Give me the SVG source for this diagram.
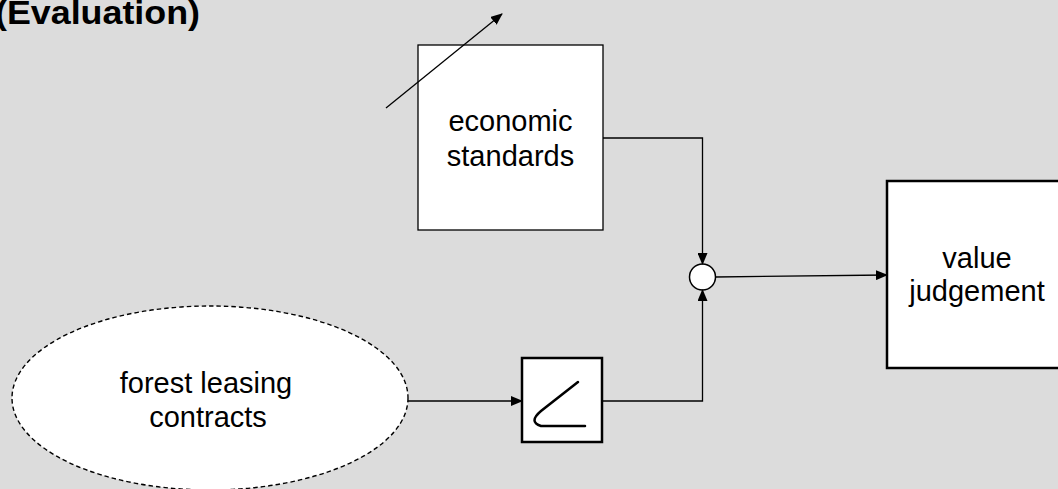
<svg xmlns="http://www.w3.org/2000/svg" width="1058" height="489" viewBox="0 0 1058 489">
<defs>
<style>
.lbl{font-family:"Liberation Sans",Arial,sans-serif;font-size:29px;fill:#000;text-anchor:middle}
.conn{fill:none;stroke:#000;stroke-width:1.3}
</style>
<marker id="arr" markerWidth="12" markerHeight="10" refX="11" refY="5" orient="auto" markerUnits="userSpaceOnUse">
<path d="M0,0 L12,5 L0,10 Z" fill="#000"/>
</marker>
</defs>
<rect x="0" y="0" width="1058" height="489" fill="#dcdcdc"/>
<text id="title" x="-5" y="24" font-family="'Liberation Sans',Arial,sans-serif" font-size="33" font-weight="bold" textLength="205" lengthAdjust="spacingAndGlyphs">(Evaluation)</text>

<g id="economic-standards">
<rect x="418" y="45" width="185" height="185" fill="#fff" stroke="#000" stroke-width="1.3"/>
<text class="lbl" x="510.5" y="131">economic</text>
<text class="lbl" x="510.5" y="166">standards</text>
</g>

<g id="value-judgement">
<rect x="887" y="181" width="180" height="187" fill="#fff" stroke="#000" stroke-width="2.5"/>
<text class="lbl" x="977" y="268">value</text>
<text class="lbl" x="977" y="301">judgement</text>
</g>

<g id="forest-leasing-contracts">
<ellipse cx="210" cy="398" rx="198" ry="92" fill="#fff" stroke="#000" stroke-width="1.4" stroke-dasharray="4.5,3"/>
<text class="lbl" x="206" y="393">forest leasing</text>
<text class="lbl" x="208" y="427">contracts</text>
</g>

<g id="transfer-block">
<rect x="522" y="358" width="80" height="84" fill="#fff" stroke="#000" stroke-width="2.5"/>
<path d="M578,382 L541,411 Q528,422 541,426 L585,426" fill="none" stroke="#000" stroke-width="2.5" stroke-linecap="round"/>
</g>

<g id="sum-junction">
<circle cx="702.5" cy="277" r="13" fill="#fff" stroke="#000" stroke-width="1.5"/>
</g>

<g id="connectors">
<line class="conn" x1="386" y1="108" x2="502" y2="14" marker-end="url(#arr)"/>
<polyline class="conn" points="603,138 702.5,138 702.5,264" marker-end="url(#arr)"/>
<polyline class="conn" points="602,401 702.5,401 702.5,290" marker-end="url(#arr)"/>
<line class="conn" x1="408" y1="401" x2="522" y2="401" marker-end="url(#arr)"/>
<line class="conn" x1="715.5" y1="277" x2="887" y2="275" marker-end="url(#arr)"/>
</g>
</svg>
